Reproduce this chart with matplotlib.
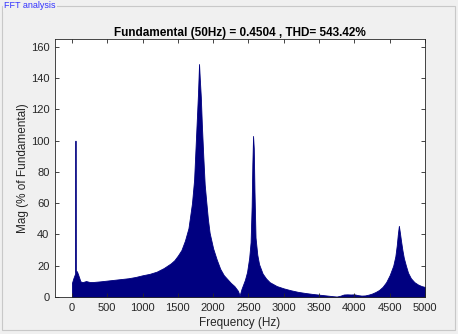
#!/usr/bin/env python3
"""FFT analysis panel: harmonic spectrum in % of fundamental (50 Hz)."""
import matplotlib
matplotlib.use("Agg")
import matplotlib.pyplot as plt
from matplotlib.patches import Rectangle

# spectrum (Hz, % of fundamental)
freq = [0, 20, 45, 50, 55, 70, 90, 120, 150, 200, 250, 300, 400, 500, 600,
        700, 800, 900, 1000, 1100, 1200, 1300, 1400, 1450, 1500, 1550, 1600,
        1650, 1700, 1730, 1750, 1770, 1785, 1800, 1810, 1825, 1840, 1860,
        1880, 1900, 1925, 1950, 2000, 2050, 2100, 2150, 2200, 2250, 2300,
        2350, 2375, 2400, 2450, 2480, 2510, 2530, 2545, 2555, 2565, 2575,
        2585, 2600, 2625, 2650, 2700, 2750, 2800, 2900, 3000, 3100, 3200,
        3300, 3400, 3500, 3600, 3700, 3750, 3800, 3850, 3900, 3950, 4000,
        4050, 4100, 4150, 4200, 4250, 4300, 4350, 4400, 4450, 4500, 4550,
        4580, 4600, 4615, 4630, 4645, 4660, 4680, 4700, 4730, 4760, 4800,
        4850, 4900, 4950, 5000]
mag = [9, 12, 15, 100, 16, 16.5, 14, 10, 9.5, 10.2, 9.6, 9.6, 10, 10.5, 11,
       11.5, 12, 12.8, 13.9, 14.8, 16.2, 18.5, 21.5, 23.5, 26.5, 30, 36,
       44, 60, 75, 95, 115, 130, 149, 140, 128, 110, 90,
       72, 62, 50, 41, 31, 24, 18, 14, 11.5, 9, 7,
       4, 1, 5, 11, 16, 25, 35, 58, 85, 103, 95,
       68, 38, 27, 21, 15, 11.8, 9.5, 7, 5.5, 4.3, 3.3,
       2.6, 2, 1.5, 1, 0.5, 0.3, 0.8, 1.6, 1.7, 1.6, 1.7,
       1.2, 0.9, 1, 1.5, 2.2, 3.2, 4.5, 6.5, 9.5, 14, 20,
       26, 33, 40, 45.5, 41, 36, 30, 25, 20, 15.5, 12,
       9.5, 8, 7, 6.4]

fund = 0.4504
thd = 543.42

BG = "#f0f0f0"
BAR = "#000080"
AXC = "#262626"

plt.rcParams["font.family"] = ["Liberation Sans", "DejaVu Sans"]

fig = plt.figure(figsize=(4.58, 3.34), dpi=100, facecolor=BG)

# etched group box "FFT analysis"
fig.patches.append(Rectangle((2 / 458, 4 / 334), 453 / 458, 324 / 334,
                             transform=fig.transFigure, fill=False,
                             edgecolor="#c8c8c8", linewidth=0.8))
fig.text(4 / 458, 1 - 6 / 334, "FFT analysis", fontsize=6.5, color="#3333ff",
         va="center", ha="left",
         bbox=dict(facecolor=BG, edgecolor="none", pad=1))

ax = fig.add_axes([55 / 458, 37 / 334, 370 / 458, 258 / 334])
ax.set_facecolor("white")
ax.fill_between(freq, mag, 0, color=BAR, linewidth=0.6, edgecolor=BAR)

ax.set_xlim(-240, 5000)
ax.set_ylim(0, 165)
ax.set_xticks(range(0, 5001, 500))
ax.set_yticks(range(0, 161, 20))
ax.tick_params(direction="in", top=True, right=True, length=3, width=0.6,
               labelsize=8, colors=AXC, pad=4)
for s in ax.spines.values():
    s.set_color(AXC)
    s.set_linewidth(0.6)

ax.set_xlabel("Frequency (Hz)", fontsize=8.5, color=AXC, labelpad=3)
ax.set_ylabel("Mag (% of Fundamental)", fontsize=8.5, color=AXC, labelpad=1)
ax.set_title(f"Fundamental (50Hz) = {fund} , THD= {thd:.2f}%",
             fontsize=8.5, fontweight="bold", color="black", pad=2)

fig.savefig("out.png", dpi=100, facecolor=BG)
